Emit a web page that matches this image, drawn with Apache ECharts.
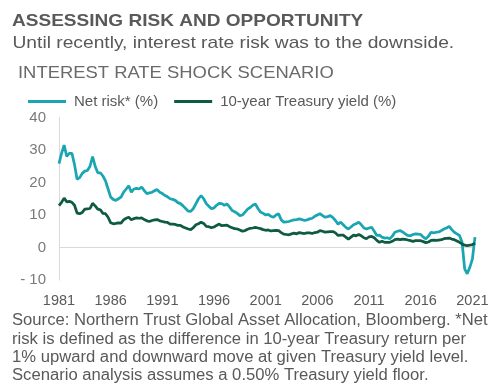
<!DOCTYPE html>
<html>
<head>
<meta charset="utf-8">
<script src="https://cdn.jsdelivr.net/npm/echarts@6/dist/echarts.min.js"></script>
<style>
  html, body { margin: 0; padding: 0; background: #ffffff; }
  #chart { width: 500px; height: 391px; }
</style>
</head>
<body>
<div id="chart"></div>
<script>
// ---- Data (quarterly readings, first point = Q1 1981) ----
const startYear = 1981;
const stepYears = 0.25;

const netRisk = [
  25.8, 29.0, 31.5, 28.0,   // 1981
  29.0, 29.0, 25.5, 21.0,   // 1982
  21.5, 22.8, 23.5, 23.7,   // 1983
  25.0, 28.0, 25.0, 23.0,   // 1984
  23.0, 22.0, 20.5, 18.0,   // 1985
  15.5, 14.8, 14.5, 15.0,   // 1986
  15.5, 17.0, 18.0, 19.0,   // 1987
  17.0, 18.0, 18.2, 18.0,   // 1988
  18.6, 17.5, 16.6, 16.8,   // 1989
  17.0, 17.5, 17.8, 17.0,   // 1990
  16.6, 16.0, 15.6, 15.0,   // 1991
  14.8, 14.5, 13.8, 13.5,   // 1992
  12.8, 12.0, 11.2, 11.1,   // 1993
  12.0, 13.5, 15.0, 16.0,   // 1994
  15.0, 13.5, 12.7, 11.9,   // 1995
  12.2, 13.0, 13.6, 13.5,   // 1996
  13.0, 13.4, 12.5, 11.4,   // 1997
  11.0, 10.5, 9.8, 10.0,    // 1998
  10.9, 11.8, 12.3, 13.0,   // 1999
  13.4, 12.0, 10.9, 10.5,   // 2000
  10.0, 10.2, 9.6, 9.3,     // 2001
  10.0, 10.4, 8.5, 7.8,     // 2002
  7.9, 8.0, 8.3, 8.5,       // 2003
  8.6, 8.8, 8.6, 8.3,       // 2004
  8.5, 8.8, 9.0, 9.6,       // 2005
  10.0, 10.4, 9.8, 9.3,     // 2006
  9.5, 9.8, 9.2, 8.3,       // 2007
  7.2, 7.8, 7.0, 6.2,       // 2008
  5.7, 6.3, 7.0, 7.3,       // 2009
  7.8, 7.0, 6.0, 5.7,       // 2010
  6.0, 6.2, 5.0, 3.7,       // 2011
  3.8, 3.2, 2.9, 3.0,       // 2012
  2.7, 3.5, 4.7, 5.0,       // 2013
  5.2, 4.8, 4.2, 3.7,       // 2014
  3.6, 4.0, 4.2, 4.1,       // 2015
  4.0, 3.2, 2.7, 3.5,       // 2016
  4.7, 4.5, 4.7, 4.8,       // 2017
  5.2, 5.7, 6.0, 6.5,       // 2018
  5.5, 4.7, 4.2, 3.7,       // 2019
  1.6, -6.6, -8.1, -6.1,    // 2020
  -3.5, 3.2                 // 2021
];

const treasuryYield = [
  12.9, 13.9, 15.2, 14.0,   // 1981
  14.2, 13.9, 13.0, 10.6,   // 1982
  10.4, 10.8, 11.8, 11.9,   // 1983
  12.0, 13.6, 12.8, 11.8,   // 1984
  11.6, 10.5, 10.4, 9.3,    // 1985
  7.6, 7.3, 7.4, 7.6,       // 1986
  7.5, 8.5, 9.0, 9.3,       // 1987
  8.5, 8.9, 9.1, 9.0,       // 1988
  9.1, 8.6, 8.2, 8.0,       // 1989
  8.3, 8.5, 8.6, 8.2,       // 1990
  8.0, 7.8, 7.7, 7.2,       // 1991
  7.2, 7.1, 6.8, 6.8,       // 1992
  6.3, 6.0, 5.7, 5.5,       // 1993
  6.1, 7.0, 7.3, 7.8,       // 1994
  7.4, 6.5, 6.4, 6.1,       // 1995
  6.3, 6.8, 7.2, 6.7,       // 1996
  6.8, 6.9, 6.4, 6.1,       // 1997
  5.8, 5.7, 5.4, 5.0,       // 1998
  5.2, 5.6, 5.9, 6.0,       // 1999
  6.2, 6.0, 5.8, 5.5,       // 2000
  5.3, 5.4, 5.1, 5.2,       // 2001
  5.3, 5.2, 4.6, 4.1,       // 2002
  4.0, 3.9, 4.2, 4.4,       // 2003
  4.2, 4.6, 4.4, 4.3,       // 2004
  4.5, 4.5, 4.3, 4.6,       // 2005
  4.7, 5.2, 5.0, 4.7,       // 2006
  4.8, 4.9, 4.9, 4.5,       // 2007
  3.7, 3.8, 3.8, 3.2,       // 2008
  2.6, 3.2, 3.8, 3.6,       // 2009
  4.0, 3.6, 3.0, 2.7,       // 2010
  3.3, 3.4, 3.0, 2.2,       // 2011
  1.6, 1.9, 1.6, 1.6,       // 2012
  1.6, 1.9, 2.4, 2.6,       // 2013
  2.4, 2.6, 2.5, 2.3,       // 2014
  2.1, 1.9, 2.1, 2.1,       // 2015
  2.1, 1.8, 1.5, 1.7,       // 2016
  2.2, 2.3, 2.2, 2.3,       // 2017
  2.4, 2.7, 2.8, 2.9,       // 2018
  2.6, 2.4, 2.0, 1.6,       // 2019
  1.1, 0.7, 0.6, 0.7,       // 2020
  0.9, 1.3                  // 2021
];

const seriesNames = ['Net risk* (%)', '10-year Treasury yield (%)'];
const seriesColors = ['#19A6B2', '#0E5A43'];

const xMin = 1981, xMax = 2021.25, xInterval = 5;
const yMin = -10, yMax = 40, yInterval = 10;

const titleText = 'ASSESSING RISK AND OPPORTUNITY';
const subtitleText = 'Until recently, interest rate risk was to the downside.';
const chartHeading = 'INTEREST RATE SHOCK SCENARIO';
const footerLines = [
  'Source: Northern Trust Global Asset Allocation, Bloomberg. *Net',
  'risk is defined as the difference in 10-year Treasury return per',
  '1% upward and downward move at given Treasury yield level.',
  'Scenario analysis assumes a 0.50% Treasury yield floor.'
];

// ---- Build ----
function toPairs(values) {
  return values.map((v, i) => [startYear + i * stepYears, v]);
}

const FONT = '"Liberation Sans", Arial, Helvetica, sans-serif';

function textEl(text, x, y, font, fill, scaleX) {
  return {
    type: 'text', x: x, y: y, scaleX: scaleX, scaleY: 1, silent: true,
    style: { text: text, font: font, fill: fill, align: 'left', verticalAlign: 'middle' }
  };
}

const graphics = [
  textEl(titleText, 12, 21, 'bold 17px ' + FONT, '#595959', 1.12),
  textEl(subtitleText, 12.5, 43.5, '17px ' + FONT, '#595959', 1.13),
  textEl(chartHeading, 18, 73.5, '17px ' + FONT, '#6a6a6a', 1.083)
];
const footerY = [321, 339.3, 357.6, 376];
footerLines.forEach((t, i) => graphics.push(textEl(t, 12, footerY[i], '16px ' + FONT, '#595959', 1.04)));

// split line only at zero (ticks: -10,0,10,20,30,40)
const splitColors = [];
for (let v = yMin; v <= yMax; v += yInterval) splitColors.push(v === 0 ? '#d9d9d9' : 'rgba(0,0,0,0)');

const chart = echarts.init(document.getElementById('chart'), null, { renderer: 'canvas' });
chart.setOption({
  backgroundColor: '#ffffff',
  animation: false,
  textStyle: { fontFamily: FONT },
  graphic: graphics,
  legend: {
    data: seriesNames,
    left: 23, top: 89,
    itemWidth: 38, itemHeight: 3, itemGap: 16,
    icon: 'rect',
    textStyle: { color: '#595959', fontSize: 15, fontFamily: FONT, padding: [0, 0, 0, 3] }
  },
  grid: { left: 59, right: 25, top: 117.5, bottom: 111, containLabel: false },
  xAxis: {
    type: 'value', min: xMin, max: xMax, interval: xInterval,
    axisLine: { show: false },
    axisTick: { show: false },
    splitLine: { show: false },
    axisLabel: {
      color: '#595959', fontSize: 14.5, fontFamily: FONT, margin: 13,
      showMinLabel: true, showMaxLabel: true,
      formatter: function (v) {
        const r = Math.round(v);
        return (Math.abs(v - r) < 1e-6 && (r - xMin) % xInterval === 0) ? String(r) : '';
      }
    }
  },
  yAxis: {
    type: 'value', min: yMin, max: yMax, interval: yInterval,
    axisLine: { show: true, lineStyle: { color: '#d9d9d9', width: 1 } },
    axisTick: { show: false },
    splitLine: { show: true, lineStyle: { color: splitColors, width: 1 } },
    axisLabel: {
      color: '#7a7a7a', fontSize: 15, fontFamily: FONT, margin: 13,
      formatter: function (v) { return v < 0 ? '- ' + Math.abs(v) : String(v); }
    }
  },
  series: [
    {
      name: seriesNames[0], type: 'line', data: toPairs(netRisk),
      showSymbol: false, symbol: 'none', smooth: false,
      color: seriesColors[0],
      lineStyle: { color: seriesColors[0], width: 2.75 }
    },
    {
      name: seriesNames[1], type: 'line', data: toPairs(treasuryYield),
      showSymbol: false, symbol: 'none', smooth: false,
      color: seriesColors[1],
      lineStyle: { color: seriesColors[1], width: 2.75 }
    }
  ]
});
</script>
</body>
</html>
